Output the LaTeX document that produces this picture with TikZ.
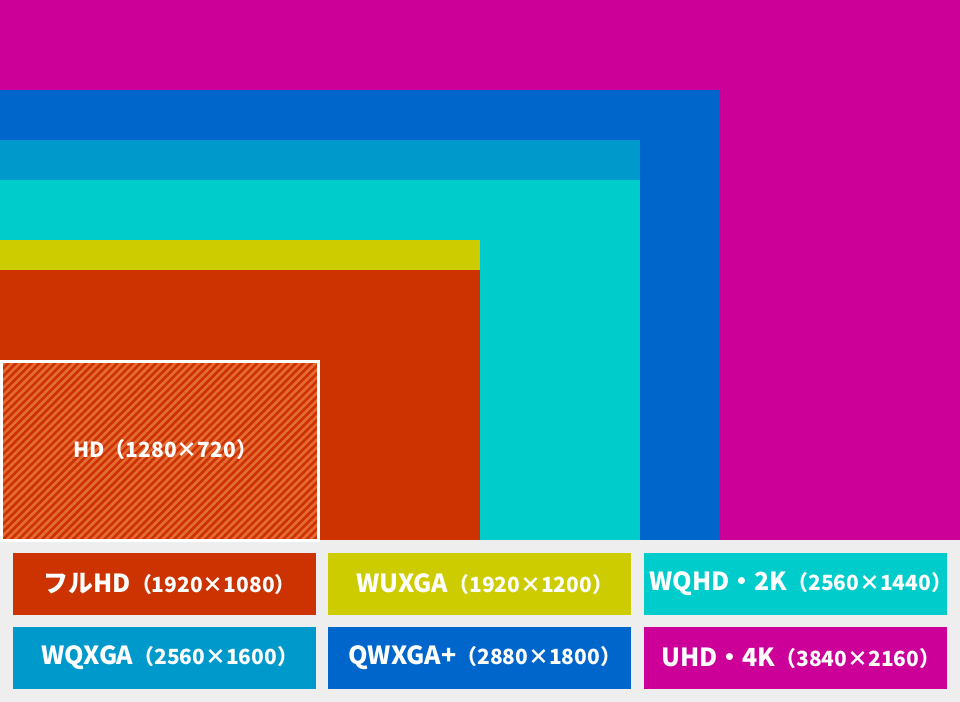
\documentclass[tikz,border=0pt]{standalone}
\usepackage{fontspec}
\setmainfont{Noto Sans CJK JP}
\usetikzlibrary{patterns.meta,positioning}

\definecolor{cuhd}{HTML}{CC0099}
\definecolor{cqwxga}{HTML}{0066CC}
\definecolor{cwqxga}{HTML}{0099CC}
\definecolor{cwqhd}{HTML}{00CCCC}
\definecolor{cwuxga}{HTML}{CCCC00}
\definecolor{cfhd}{HTML}{CC3300}
\definecolor{cstripe}{HTML}{E56C36}
\definecolor{cband}{HTML}{EEEEEE}

% the full-width closing bracket carries a blank half: drop it so the text sits centred
\newcommand\reslabel[2]{#1{\fontsize{21}{23}\selectfont（#2）\kern-0.5em}}

\begin{document}
\begin{tikzpicture}[x=1bp,y=-1bp,every node/.style={outer sep=0pt},
 screen/.style={fill=#1,draw=none},
 legend/.style={fill=#1,minimum width=303bp,minimum height=62bp,inner sep=0pt,
 text=white,font=\bfseries\fontsize{25}{27}\selectfont},
 hdbox/.style={draw=white,line width=3bp,
 pattern={Lines[angle=45,distance=5.5bp,line width=2.6bp]},pattern color=cstripe}]

 % grey band and frame
 \fill[cband] (0,0) rectangle (960,702);

 % screens, largest first, all sharing the lower left corner
 \fill[screen=cuhd] (0,0) rectangle (960,540);
 \fill[screen=cqwxga] (0,90) rectangle (720,540);
 \fill[screen=cwqxga] (0,140) rectangle (640,540);
 \fill[screen=cwqhd] (0,180) rectangle (640,540);
 \fill[screen=cwuxga] (0,240) rectangle (480,540);
 \fill[screen=cfhd] (0,270) rectangle (480,540);
 \draw[hdbox] (1.5,361.5) rectangle (318.5,540);
 \node[text=white,font=\bfseries\fontsize{21}{23}\selectfont] (hd) at (160,450) {HD（1280×720）\kern-0.5em};

 % legend
 \node[legend=cfhd] (lfhd) at (164.5,584) {\reslabel{フルHD}{1920×1080}};
 \node[legend=cwuxga,right=12bp of lfhd] (lwuxga) {\reslabel{WUXGA}{1920×1200}};
 \node[legend=cwqhd,right=13bp of lwuxga] (lwqhd) {\reslabel{WQHD・2K}{2560×1440}};
 \node[legend=cwqxga,below=12bp of lfhd] (lwqxga) {\reslabel{WQXGA}{2560×1600}};
 \node[legend=cqwxga,below=12bp of lwuxga] (lqwxga) {\reslabel{QWXGA+}{2880×1800}};
 \node[legend=cuhd,below=12bp of lwqhd] (luhd) {\reslabel{UHD・4K}{3840×2160}};

\end{tikzpicture}
\end{document}
